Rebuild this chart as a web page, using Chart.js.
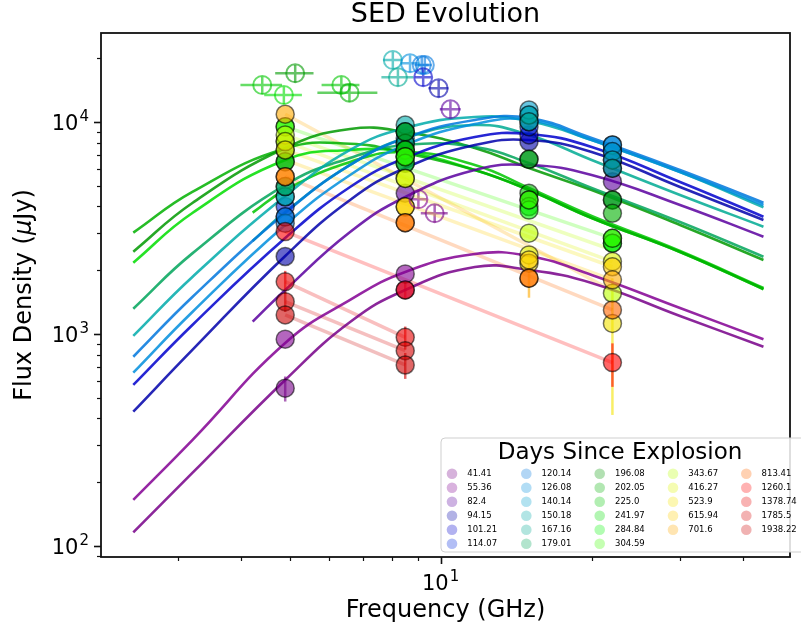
<!DOCTYPE html>
<html>
<head>
<meta charset="utf-8">
<script src="https://cdn.jsdelivr.net/npm/chart.js@4.4.1/dist/chart.umd.min.js"></script>
<style>
  html, body { margin:0; padding:0; background:#fff; }
  #wrap { width:801px; height:631px; }
</style>
</head>
<body>
<div id="wrap"><canvas id="sedChart" width="801" height="631"></canvas></div>
<script>
// epochs (days since explosion)
const epochs = ['41.41','55.36','82.4','94.15','101.21','114.07','120.14','126.08','140.14','150.18',
  '167.16','179.01','196.08','202.05','225.0','241.97','284.84','304.59','343.67','416.27',
  '523.9','615.94','701.6','813.41','1260.1','1378.74','1785.5','1938.22'];

// observed flux densities (uJy) at each frequency, one entry per epoch
const obsFreq = [4.9, 8.5, 15, 22];
const flux49 = [555, 945, null, 2320, 3570, 3990, 3325, 3570, 4440, 4440, 4960, 4960, 6500, 7380,
  6500, 8080, 9500, 9500, 8690, 8080, 7380, 5520, 10880, 5520, 3040, 1765, 1420, 1230];
const flux85 = [1614, 1920, 4610, 6380, 6860, 7380, 7940, 8380, 8990, 9680, 8990, 7940, 8990, 7380,
  7380, 6860, 6380, 6860, 5420, 5420, 3980, 3980, 3350, 3350, 1614, 964, 834, 714];
const flux150 = [null, null, null, 8070, 8690, 9500, 10030, 10790, 11390, 10790, 10030, 6670, 6670, 4610,
  4290, 3990, 3840, 4290, 2990, 2360, 2155, 2235, 1833, 1833, null, null, null, null];
const flux220 = [null, null, 5230, 6050, 6620, 7250, 7790, 7790, 7250, 6620, 6050, 4290, 4290, 3710,
  2825, 2680, 2680, 2825, 1556, 2195, 1122, 2075, 1800, 1298, 733, null, null, null];
// large error bars: [epoch, freq index, error]
const bigErr = [[0,0,75],[25,0,220],[26,0,150],[24,1,150],[25,1,120],[27,1,100],[22,2,350],[20,3,707],[24,3,170]];

// SSA model fits
const fitFreqWide = [2.44, 3.2, 4.9, 6.6, 8.5, 11.7, 15, 20, 30, 44];
const fitFreqNarrow = [4.22, 4.9, 6.6, 8.5, 11.7, 15, 20, 30, 44];
const fitEpoch = [0, 1, 2, 3, 4, 7, 6, 9, 10, 11, 12, 13, 15, 14];
const fitNarrow = [false, false, true, false, false, false, false, false, true, false, false, false, false, true];
const fitFlux = [
  [116, 221, 607, 1139, 1613, 2070, 2004, 1740, 1216, 871],
  [165, 316, 907, 1447, 1961, 2384, 2333, 1898, 1326, 944],
  [1143, 1613, 3028, 4429, 5936, 6270, 5623, 4060, 2877],
  [430, 841, 2333, 4287, 6067, 7789, 8225, 7219, 4937, 3449],
  [575, 1103, 2837, 4937, 6765, 8498, 8779, 7624, 5212, 3575],
  [657, 1270, 3268, 5623, 7789, 9786, 10219, 8225, 5809, 4060],
  [781, 1494, 3723, 6270, 8405, 10219, 10444, 8405, 5936, 4162],
  [979, 1857, 4477, 7379, 9370, 10558, 10109, 8225, 5809, 3959],
  [2746, 3763, 6270, 8405, 9679, 8684, 6620, 4526, 3208],
  [1316, 2400, 5045, 6765, 7789, 7624, 6405, 4883, 3375, 2315],
  [2445, 4150, 7541, 9268, 8971, 7541, 6067, 4778, 3268, 2234],
  [3005, 4680, 7500, 7900, 7141, 5936, 4778, 3526, 2437, 1631],
  [2169, 3720, 6620, 7379, 7219, 5936, 4778, 3526, 2437, 1626],
  [3734, 4778, 6477, 7219, 6270, 4883, 3603, 2463, 1648]
];

// power-law fits for late epochs
const plEpoch = [17, 18, 19, 20, 21, 22, 23, 24, 25, 26, 27];
const plFreqEnd = [22, 22, 22, 22, 22, 22, 22, 22, 8.5, 8.5, 8.5];
const plFluxStart = [9500, 8690, 8080, 7380, 6620, 10880, 5520, 3040, 1765, 1420, 1230];
const plFluxEnd = [2825, 2490, 2195, 2075, 1800, 1600, 1298, 733, 964, 834, 714];

// other observations (open markers with frequency error)
const hollowFreq = [4.41, 5.13, 4.87, 6.34, 6.58, 8.03, 8.22, 8.69, 9.17, 9.30, 9.23, 9.91, 10.46, 9.03, 9.73];
const hollowFlux = [14945, 16970, 13410, 14945, 13750, 19610, 16250, 18920, 18570, 18570, 16250, 14420, 11480, 4320, 3710];
const hollowFreqErr = [0.42, 0.45, 0.42, 0.55, 0.9, 0.35, 0.6, 0.35, 0.3, 0.3, 0.35, 0.45, 0.5, 0.35, 0.6];
const hollowFluxErr = [1400, 1600, 1250, 1400, 1300, 1800, 1500, 1750, 1700, 1700, 1500, 1350, 1050, 400, 350];
const hollowEpoch = [14, 12, 15, 14, 13, 9, 10, 7, 6, 6, 4, 3, 2, 1, 0];

// axis ticks
const xMajor = [10];
const xMinor = [3, 4, 5, 6, 7, 8, 9, 20, 30, 40];
const yMajor = [100, 1000, 10000];
const yMinor = [90, 200, 300, 400, 500, 600, 700, 800, 900, 2000, 3000, 4000, 5000, 6000, 7000, 8000, 9000, 20000];

// legend: first entry of each column
const legendColStart = [0, 6, 12, 18, 23];

const obsFlux = [flux49, flux85, flux150, flux220];

// nipy_spectral colormap
const nipyStops = [[0,0,0,0],[0.05,0.4667,0,0.5333],[0.10,0.5333,0,0.6],[0.15,0,0,0.6667],[0.20,0,0,0.8667],
  [0.25,0,0.4667,0.8667],[0.30,0,0.6,0.8667],[0.35,0,0.6667,0.6667],[0.40,0,0.6667,0.5333],[0.45,0,0.6,0],
  [0.50,0,0.7333,0],[0.55,0,0.8667,0],[0.60,0,1,0],[0.65,0.7333,1,0],[0.70,0.9333,0.9333,0],[0.75,1,0.8,0],
  [0.80,1,0.6,0],[0.85,1,0,0],[0.90,0.8667,0,0],[0.95,0.8,0,0],[1,0.8,0.8,0.8]];
function nipy(v) {
  for (let k = 1; k < nipyStops.length; k++) {
    const a = nipyStops[k-1], b = nipyStops[k];
    if (v <= b[0]) {
      const t = (v - a[0]) / (b[0] - a[0]);
      return [1,2,3].map(j => Math.round(255 * (a[j] + t * (b[j] - a[j]))));
    }
  }
  return [204,204,204];
}
function epochColor(i, alpha) {
  const c = nipy(0.05 + 0.9 * i / (epochs.length - 1));
  return `rgba(${c[0]},${c[1]},${c[2]},${alpha})`;
}

const datasets = [];

plEpoch.forEach((e, k) => {
  datasets.push({
    data: [{x: obsFreq[0], y: plFluxStart[k]}, {x: plFreqEnd[k], y: plFluxEnd[k]}],
    showLine: true, borderColor: epochColor(e, 0.25), borderWidth: 3.5,
    pointRadius: 0, order: 5
  });
});

fitEpoch.forEach((e, k) => {
  const fr = fitNarrow[k] ? fitFreqNarrow : fitFreqWide;
  datasets.push({
    data: fr.map((f, j) => ({x: f, y: fitFlux[k][j]})),
    showLine: true, borderColor: epochColor(e, 0.85), borderWidth: 2.6,
    tension: 0.45, pointRadius: 0, order: 4
  });
});

// later epochs first so that they end up drawn on top
for (let e = epochs.length - 1; e >= 0; e--) {
  const pts = [];
  obsFreq.forEach((f, j) => { if (obsFlux[j][e] != null) pts.push({x: f, y: obsFlux[j][e]}); });
  datasets.push({
    data: pts, backgroundColor: epochColor(e, 0.6), borderColor: 'rgba(0,0,0,0.55)',
    borderWidth: 1.5, pointRadius: 9, pointHoverRadius: 9, order: 2
  });
}

datasets.push({
  data: hollowFreq.map((f, k) => ({x: f, y: hollowFlux[k]})),
  backgroundColor: 'rgba(0,0,0,0)',
  borderColor: hollowEpoch.map(e => epochColor(e, 0.6)),
  borderWidth: 2, pointRadius: 9, order: 1
});

const errorBars = {
  id: 'errorBars',
  beforeDatasetsDraw(chart) {
    const {ctx, chartArea: a, scales: {x, y}} = chart;
    ctx.save();
    ctx.beginPath(); ctx.rect(a.left, a.top, a.right - a.left, a.bottom - a.top); ctx.clip();
    ctx.lineWidth = 2.5;
    bigErr.forEach(([e, f, err]) => {
      const v = obsFlux[f][e];
      const xp = x.getPixelForValue(obsFreq[f]);
      ctx.strokeStyle = epochColor(e, 0.6);
      ctx.beginPath();
      ctx.moveTo(xp, y.getPixelForValue(v - err));
      ctx.lineTo(xp, y.getPixelForValue(v + err));
      ctx.stroke();
    });
    hollowFreq.forEach((f, k) => {
      const xp = x.getPixelForValue(f), yp = y.getPixelForValue(hollowFlux[k]);
      ctx.strokeStyle = epochColor(hollowEpoch[k], 0.6);
      ctx.beginPath();
      ctx.moveTo(x.getPixelForValue(f - hollowFreqErr[k]), yp);
      ctx.lineTo(x.getPixelForValue(f + hollowFreqErr[k]), yp);
      ctx.moveTo(xp, y.getPixelForValue(hollowFlux[k] - hollowFluxErr[k]));
      ctx.lineTo(xp, y.getPixelForValue(hollowFlux[k] + hollowFluxErr[k]));
      ctx.stroke();
    });
    ctx.restore();
  }
};

function powLabel(ctx, exp, xPos, yBase, align) {
  ctx.font = '21px "DejaVu Sans"';
  const w1 = ctx.measureText('10').width;
  ctx.font = '15px "DejaVu Sans"';
  const w2 = ctx.measureText(exp).width;
  const total = w1 + w2 + 1;
  const x0 = align === 'right' ? xPos - total : xPos - total / 2;
  ctx.textAlign = 'left';
  ctx.textBaseline = 'alphabetic';
  ctx.font = '21px "DejaVu Sans"';
  ctx.fillText('10', x0, yBase);
  ctx.font = '15px "DejaVu Sans"';
  ctx.fillText(exp, x0 + w1 + 1, yBase - 9);
}

const axesAndLegend = {
  id: 'axesAndLegend',
  afterDraw(chart) {
    const {ctx, chartArea: a, scales: {x, y}} = chart;
    ctx.save();
    ctx.fillStyle = '#000';
    ctx.strokeStyle = '#111';

    // ticks
    const tick = (list, len, w, isX) => {
      ctx.lineWidth = w;
      list.forEach(v => {
        ctx.beginPath();
        if (isX) {
          const p = Math.round(x.getPixelForValue(v)) + 0.5;
          ctx.moveTo(p, a.bottom); ctx.lineTo(p, a.bottom + len);
        } else {
          const p = Math.round(y.getPixelForValue(v)) + 0.5;
          ctx.moveTo(a.left, p); ctx.lineTo(a.left - len, p);
        }
        ctx.stroke();
      });
    };
    tick(xMajor, 7, 1.6, true);
    tick(xMinor, 4, 1.2, true);
    tick(yMajor, 7, 1.6, false);
    tick(yMinor, 4, 1.2, false);

    // spines
    ctx.lineWidth = 1.8;
    ctx.strokeRect(a.left, a.top, a.right - a.left, a.bottom - a.top);

    // tick labels
    xMajor.forEach(v => powLabel(ctx, String(Math.round(Math.log10(v))), x.getPixelForValue(v), 590, 'center'));
    yMajor.forEach(v => powLabel(ctx, String(Math.round(Math.log10(v))), a.left - 12, y.getPixelForValue(v) + 8, 'right'));

    // title and axis labels
    ctx.textAlign = 'center';
    ctx.textBaseline = 'alphabetic';
    ctx.font = '27px "DejaVu Sans"';
    ctx.fillText('SED Evolution', (a.left + a.right) / 2, 22);
    ctx.font = '24px "DejaVu Sans"';
    ctx.fillText('Frequency (GHz)', (a.left + a.right) / 2, 617);

    ctx.save();
    ctx.translate(31, (a.top + a.bottom) / 2);
    ctx.rotate(-Math.PI / 2);
    ctx.textAlign = 'left';
    const p1 = 'Flux Density (', p2 = '\u03bc', p3 = 'Jy)';
    ctx.font = '24px "DejaVu Sans"';
    const w1 = ctx.measureText(p1).width, w3 = ctx.measureText(p3).width;
    ctx.font = 'italic 24px "DejaVu Sans"';
    const w2 = ctx.measureText(p2).width;
    const sx = -(w1 + w2 + w3) / 2;
    ctx.font = '24px "DejaVu Sans"';
    ctx.fillText(p1, sx, 0);
    ctx.font = 'italic 24px "DejaVu Sans"';
    ctx.fillText(p2, sx + w1, 0);
    ctx.font = '24px "DejaVu Sans"';
    ctx.fillText(p3, sx + w1 + w2, 0);
    ctx.restore();

    // legend
    const lx = 441, ly = 438, lw = 380, lh = 114;
    ctx.beginPath();
    ctx.roundRect(lx, ly, lw, lh, 4);
    ctx.fillStyle = 'rgba(255,255,255,0.85)';
    ctx.fill();
    ctx.lineWidth = 1;
    ctx.strokeStyle = '#cfcfcf';
    ctx.stroke();
    ctx.fillStyle = '#000';
    ctx.textAlign = 'center';
    ctx.font = '23px "DejaVu Sans"';
    ctx.fillText('Days Since Explosion', 620, 459);
    const colX = [452, 526.3, 599.7, 673, 746.3];
    ctx.font = '8.5px "DejaVu Sans"';
    ctx.textAlign = 'left';
    ctx.textBaseline = 'middle';
    epochs.forEach((lab, i) => {
      let c = 0;
      while (c + 1 < legendColStart.length && i >= legendColStart[c + 1]) c++;
      const r = i - legendColStart[c];
      const cx = colX[c], cy = 473.7 + 14 * r;
      ctx.beginPath();
      ctx.arc(cx, cy, 5.3, 0, Math.PI * 2);
      ctx.fillStyle = epochColor(i, 0.3);
      ctx.fill();
      ctx.fillStyle = '#000';
      ctx.fillText(lab, cx + 15.3, cy + 0.5);
    });
    ctx.restore();
  }
};

new Chart(document.getElementById('sedChart'), {
  type: 'scatter',
  data: { datasets: datasets },
  options: {
    responsive: false,
    animation: false,
    devicePixelRatio: 1,
    layout: { padding: { left: 101, top: 33, right: 0, bottom: 74 } },
    scales: {
      x: { type: 'logarithmic', min: 2.104, max: 49.7, display: false },
      y: { type: 'logarithmic', min: 88.7, max: 26290, display: false }
    },
    plugins: { legend: { display: false }, tooltip: { enabled: false } }
  },
  plugins: [errorBars, axesAndLegend]
});
</script>
</body>
</html>
